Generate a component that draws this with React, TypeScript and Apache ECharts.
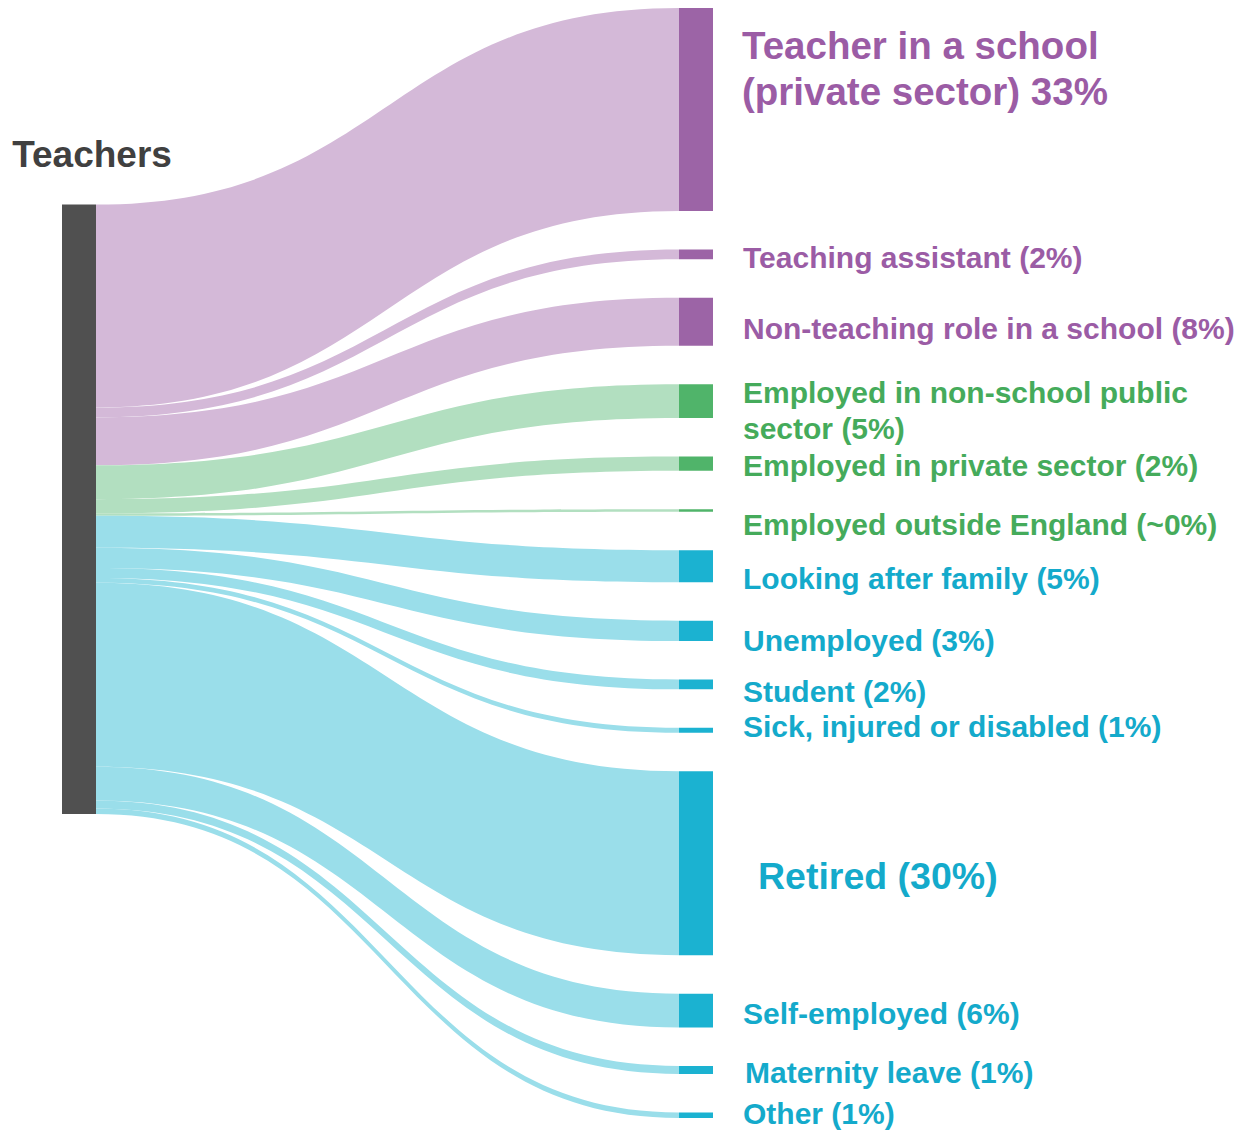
import React, { useEffect, useRef } from "react";
import * as echarts from "echarts";

// ---- data ----
const sourceName = "Teachers";
const targets = [
  "Teacher in a school (private sector)",
  "Teaching assistant",
  "Non-teaching role in a school",
  "Employed in non-school public sector",
  "Employed in private sector",
  "Employed outside England",
  "Looking after family",
  "Unemployed",
  "Student",
  "Sick, injured or disabled",
  "Retired",
  "Self-employed",
  "Maternity leave",
  "Other",
];
const values = [33.0, 1.6, 7.8, 5.5, 2.3, 0.4, 5.2, 3.3, 1.6, 0.8, 29.9, 5.5, 1.3, 0.9];
const labels = [
  "Teacher in a school\n(private sector) 33%",
  "Teaching assistant (2%)",
  "Non-teaching role in a school (8%)",
  "Employed in non-school public\nsector (5%)",
  "Employed in private sector (2%)",
  "Employed outside England (~0%)",
  "Looking after family (5%)",
  "Unemployed (3%)",
  "Student (2%)",
  "Sick, injured or disabled (1%)",
  "Retired (30%)",
  "Self-employed (6%)",
  "Maternity leave (1%)",
  "Other (1%)",
];
const groups = [
  "school", "school", "school",
  "employed", "employed", "employed",
  "out", "out", "out", "out", "out", "out", "out", "out",
];

// ---- styles / layout ----
const nodeColor: Record<string, string> = { school: "#9c64a6", employed: "#50b46a", out: "#1bb2d1" };
const linkColor: Record<string, string> = { school: "#d4b9d8", employed: "#b2dfc0", out: "#9adeea" };
const textColor: Record<string, string> = { school: "#9b5ca5", employed: "#45ab5b", out: "#14aacb" };
const labelDist = [29, 30, 30, 30, 30, 30, 30, 30, 30, 30, 45, 30, 32, 30];
const labelDy = [-41, 3, 6.5, 9.5, 1.5, 14.5, 12, 9.5, 7.5, -3.5, 13, 2.5, 2.5, -2];
const labelSize = [38.5, 30, 30, 30, 30, 30, 30, 30, 30, 30, 37.5, 30, 30, 30];
const labelLH = [46, 30, 30, 36, 30, 30, 30, 30, 30, 30, 38, 30, 30, 30];

export default function App() {
  const ref = useRef<HTMLDivElement>(null);
  useEffect(() => {
    document.body.style.margin = "0";
    const chart = echarts.init(ref.current!, null, { renderer: "svg" });
    const TOP = 8;
    const H = 1110;
    const GAP = 38.5;
    const total = values.reduce((a, b) => a + b, 0);
    const ky = (H - (values.length - 1) * GAP) / total;
    let y = 0;
    let wsum = 0;
    values.forEach((v) => {
      const h = v * ky;
      wsum += v * (y + h / 2);
      y += h + GAP;
    });
    const srcCenter = wsum / total;
    const srcLocalY = (srcCenter - (total * ky) / 2) / H;

    const nodes: any[] = [
      {
        name: sourceName,
        localY: srcLocalY,
        itemStyle: { color: "#505050" },
        label: {
          position: "top",
          distance: 0,
          offset: [13, -32],
          fontSize: 37,
          lineHeight: 37,
          color: "#404040",
        },
      },
      ...targets.map((name, i) => ({
        name,
        itemStyle: { color: nodeColor[groups[i]] },
        label: {
          position: "right",
          distance: labelDist[i],
          offset: [0, labelDy[i]],
          fontSize: labelSize[i],
          lineHeight: labelLH[i],
          color: textColor[groups[i]],
          formatter: labels[i],
        },
      })),
    ];
    const links = targets.map((name, i) => ({
      source: sourceName,
      target: name,
      value: values[i],
      lineStyle: { color: linkColor[groups[i]], opacity: 1 },
    }));

    chart.setOption({
      animation: false,
      series: [
        {
          type: "sankey",
          left: 62,
          right: 535,
          top: TOP,
          height: H,
          nodeWidth: 34,
          nodeGap: GAP,
          layoutIterations: 0,
          draggable: false,
          emphasis: { disabled: true },
          itemStyle: { borderWidth: 0 },
          lineStyle: { curveness: 0.5, opacity: 1 },
          label: {
            fontFamily: "'Liberation Sans', Arial, sans-serif",
            fontWeight: "bold",
          },
          data: nodes,
          links,
        },
      ],
    });
    return () => chart.dispose();
  }, []);
  return <div ref={ref} style={{ width: 1248, height: 1131 }} />;
}
